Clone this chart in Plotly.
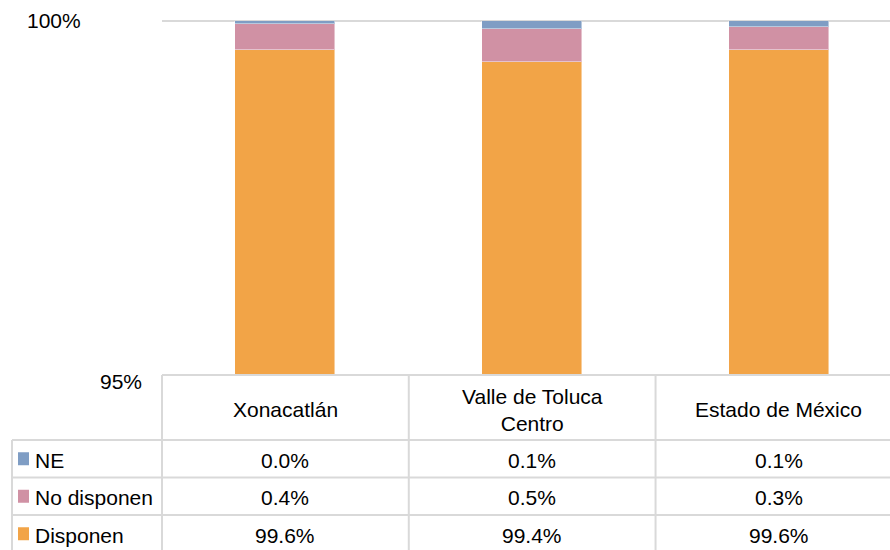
import plotly.graph_objects as go

# Categories and stacked shares (percent of households)
categories = ["Xonacatlán", "Valle de Toluca<br>Centro", "Estado de México"]
disponen = [99.59, 99.42, 99.59]
no_disponen = [0.37, 0.47, 0.33]
ne = [0.04, 0.11, 0.08]
y_tick_values = [95, 100]
y_tick_labels = ["95%", "100%"]

series = [
    ("Disponen", disponen, "#F2A447"),
    ("No disponen", no_disponen, "#D091A4"),
    ("NE", ne, "#7F9DC4"),
]
# order of rows in the data table (top to bottom)
table_rows = ["NE", "No disponen", "Disponen"]

FONT = "Liberation Sans, Arial, sans-serif"
W, H = 890, 550
M_L, M_R, M_T, M_B = 162, 0, 21, 175
X_RANGE = [-0.5, 2.45]
Y_RANGE = [y_tick_values[0], y_tick_values[1]]
GRID = "#D9D9D9"

x_idx = list(range(len(categories)))

fig = go.Figure()
for name, vals, color in series:
    fig.add_trace(go.Bar(
        x=x_idx, y=vals, name=name, width=0.405,
        marker=dict(color=color, line=dict(color="rgba(255,255,255,0.45)", width=1)),
        showlegend=False,
    ))

plot_w = W - M_L - M_R
plot_h = H - M_T - M_B


def px_x(px):
    return (px - M_L) / plot_w


def px_y(py):
    return (H - M_B - py) / plot_h


def data_x(x):
    return (x - X_RANGE[0]) / (X_RANGE[1] - X_RANGE[0])


def data_y(y):
    return (y - Y_RANGE[0]) / (Y_RANGE[1] - Y_RANGE[0])


shapes = []
annotations = []

# horizontal gridline at the top tick (drawn as a shape: it sits on the plot edge)
shapes.append(dict(type="line", xref="paper", yref="paper", layer="below",
                   x0=0, x1=1, y0=data_y(y_tick_values[1]), y1=data_y(y_tick_values[1]),
                   line=dict(color=GRID, width=2)))

# table grid geometry (pixels)
left_px = 12
header_bottom = 440
row_h = 37.5
row_tops = [header_bottom + i * row_h for i in range(len(table_rows))]
table_bottom = header_bottom + row_h * len(table_rows)
line = dict(color=GRID, width=2)

# column separators
for i in range(len(categories) + 1):
    xb = data_x(i - 0.5)
    shapes.append(dict(type="line", xref="paper", yref="paper",
                       x0=xb, x1=xb, y0=px_y(H - M_B), y1=px_y(table_bottom), line=line))
# left edge of label column
shapes.append(dict(type="line", xref="paper", yref="paper",
                   x0=px_x(left_px), x1=px_x(left_px),
                   y0=px_y(header_bottom), y1=px_y(table_bottom), line=line))
# top line of the header (axis line)
shapes.append(dict(type="line", xref="paper", yref="paper",
                   x0=data_x(-0.5), x1=1, y0=0, y1=0, line=line))
# row separators
for yt in row_tops + [table_bottom]:
    shapes.append(dict(type="line", xref="paper", yref="paper",
                       x0=px_x(left_px), x1=1, y0=px_y(yt), y1=px_y(yt), line=line))

# header labels
for i, cat in enumerate(categories):
    annotations.append(dict(xref="paper", yref="paper", x=data_x(i),
                            y=px_y((H - M_B + header_bottom) / 2 + 2),
                            text=cat, showarrow=False, xanchor="center", yanchor="middle",
                            font=dict(family=FONT, size=21, color="#000")))

lookup = {name: (vals, color) for name, vals, color in series}
for r, name in enumerate(table_rows):
    vals, color = lookup[name]
    cy = row_tops[r] + row_h / 2
    # legend key
    shapes.append(dict(type="rect", xref="paper", yref="paper",
                       x0=px_x(18), x1=px_x(29), y0=px_y(cy - 6.5), y1=px_y(cy + 6.5),
                       fillcolor=color, line=dict(width=0)))
    annotations.append(dict(xref="paper", yref="paper", x=px_x(33), y=px_y(cy + 1.5),
                            text=name, showarrow=False, xanchor="left", yanchor="middle",
                            font=dict(family=FONT, size=21, color="#000")))
    for i, v in enumerate(vals):
        annotations.append(dict(xref="paper", yref="paper", x=data_x(i), y=px_y(cy + 1.5),
                                text=f"{v:.1f}%", showarrow=False,
                                xanchor="center", yanchor="middle",
                                font=dict(family=FONT, size=21, color="#000")))

# y-axis tick labels
annotations.append(dict(xref="paper", yref="y", x=px_x(83), y=y_tick_values[1],
                        text=y_tick_labels[1], showarrow=False, xanchor="right",
                        yanchor="middle", yshift=1,
                        font=dict(family=FONT, size=21, color="#000")))
annotations.append(dict(xref="paper", yref="y", x=px_x(144), y=y_tick_values[0],
                        text=y_tick_labels[0], showarrow=False, xanchor="right",
                        yanchor="middle", yshift=-6,
                        font=dict(family=FONT, size=21, color="#000")))

fig.update_layout(
    width=W, height=H,
    margin=dict(l=M_L, r=M_R, t=M_T, b=M_B, pad=0),
    barmode="stack", bargap=0,
    paper_bgcolor="white", plot_bgcolor="white",
    xaxis=dict(range=X_RANGE, showticklabels=False, showgrid=False,
               zeroline=False, showline=False, ticks=""),
    yaxis=dict(range=Y_RANGE, showticklabels=False, showgrid=False,
               zeroline=False, showline=False, ticks=""),
    shapes=shapes, annotations=annotations,
)

fig.write_html("out.html")
